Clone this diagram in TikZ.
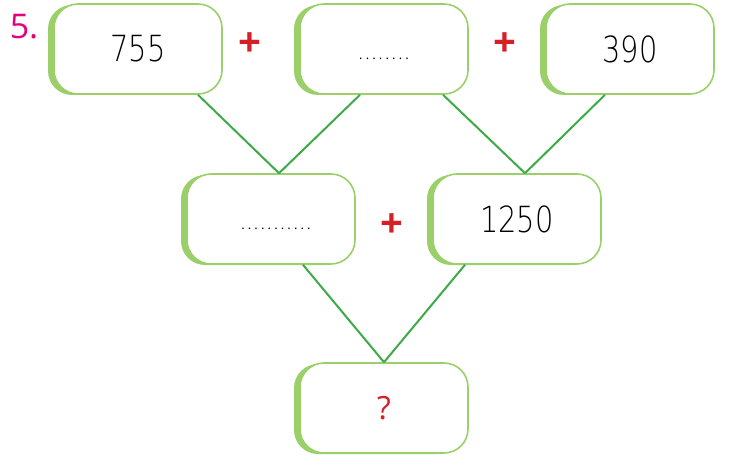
\documentclass[tikz,border=0pt]{standalone}
\usepackage{fontspec}
\setmainfont{Open Sans}
\newfontfamily\thinfont{DejaVu Sans ExtraLight}[FakeStretch=0.8]
\usetikzlibrary{calc}
\definecolor{boxgreen}{RGB}{155,207,106}
\definecolor{linegreen}{RGB}{61,170,72}
\definecolor{plusred}{RGB}{212,32,39}
\definecolor{numpink}{RGB}{230,0,126}
\newcommand{\blankrow}[1]{\raisebox{-1.1ex}{\normalfont\fontsize{13}{15}\selectfont\foreach \i in {1,...,#1}{\makebox[6.6pt]{.}}}}

\begin{document}
\begin{tikzpicture}[x=1pt, y=-1pt, every node/.style={inner sep=0pt}]
\tikzset{box/.style={draw=boxgreen, line width=1.6pt, fill=white, rounded corners=24pt,
  minimum width=168pt, minimum height=90pt, font=\thinfont\fontsize{36}{38}\selectfont,
  preaction={fill=boxgreen, transform canvas={xshift=-6pt, yshift=-1pt}}},
  plus/.style={text=plusred, font=\bfseries\fontsize{40}{42}\selectfont},
  link/.style={draw=linegreen, line width=2pt}}
\useasboundingbox (0,0) rectangle (736,457);
\node[text=numpink, font=\fontsize{34}{36}\selectfont] (num) at (24,27) {5.};
\node[box] (b1) at (138,49)   {755};
\node[box] (b2) at (384,49)   {\blankrow{8}};
\node[box] (b3) at (630,49)   {390};
\node[box] (b4) at (271,219)  {\hspace*{10pt}\blankrow{11}};
\node[box] (b5) at (517,219)  {1250};
\node[box] (b6) at (384,408)  {\normalfont\fontsize{32}{34}\selectfont\textcolor{plusred}{?}};
\node[plus] (p1) at (250,45)  {+};
\node[plus] (p2) at (505,45)  {+};
\node[plus] (p3) at (392,226) {+};
\draw[link] ($(b1.south)+(60,0)$)  -- ($(b4.north)+(8,0)$);
\draw[link] ($(b2.south)+(-24,0)$) -- ($(b4.north)+(8,0)$);
\draw[link] ($(b2.south)+(59,0)$)  -- ($(b5.north)+(8,0)$);
\draw[link] ($(b3.south)+(-25,0)$) -- ($(b5.north)+(8,0)$);
\draw[link] ($(b4.south)+(32,0)$)  -- (b6.north);
\draw[link] ($(b5.south)+(-52,0)$) -- (b6.north);
\end{tikzpicture}
\end{document}
